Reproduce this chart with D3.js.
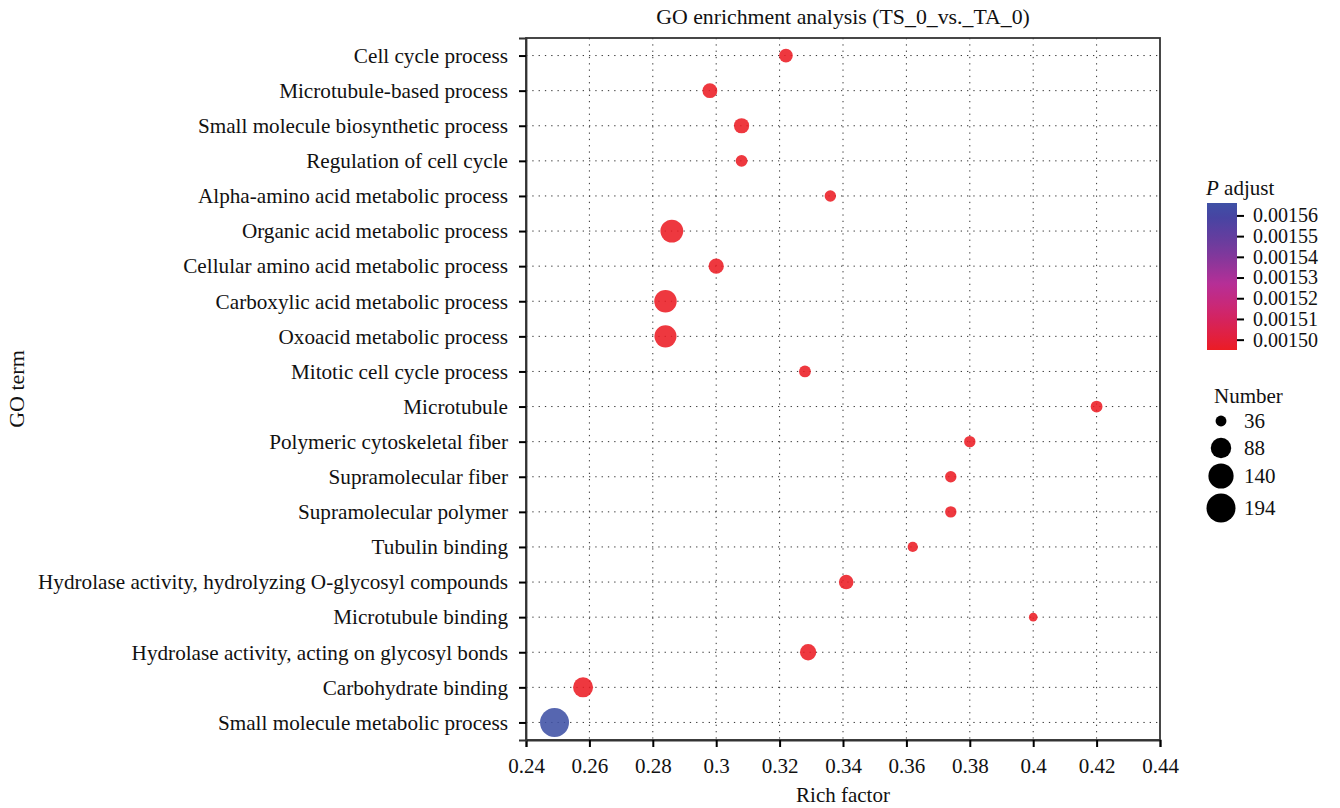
<!DOCTYPE html>
<html>
<head>
<meta charset="utf-8">
<script src="https://cdn.jsdelivr.net/npm/d3@7"></script>
<style>
  html, body { margin: 0; padding: 0; background: #fff; }
  svg { display: block; font-family: "Liberation Serif", "DejaVu Serif", serif; }
</style>
</head>
<body>
<svg id="chart" width="1340" height="808"></svg>
<script>
// GO terms, top to bottom
const terms = [
  "Cell cycle process",
  "Microtubule-based process",
  "Small molecule biosynthetic process",
  "Regulation of cell cycle",
  "Alpha-amino acid metabolic process",
  "Organic acid metabolic process",
  "Cellular amino acid metabolic process",
  "Carboxylic acid metabolic process",
  "Oxoacid metabolic process",
  "Mitotic cell cycle process",
  "Microtubule",
  "Polymeric cytoskeletal fiber",
  "Supramolecular fiber",
  "Supramolecular polymer",
  "Tubulin binding",
  "Hydrolase activity, hydrolyzing O-glycosyl compounds",
  "Microtubule binding",
  "Hydrolase activity, acting on glycosyl bonds",
  "Carbohydrate binding",
  "Small molecule metabolic process"
];
const richFactor = [0.322, 0.298, 0.308, 0.308, 0.336, 0.286, 0.300, 0.284, 0.284, 0.328,
                    0.420, 0.380, 0.374, 0.374, 0.362, 0.341, 0.400, 0.329, 0.258, 0.249];
const geneNumber = [44, 49, 51, 38, 37, 112, 51, 108, 104, 38,
                    38, 37, 37, 37, 35, 48, 34, 57, 84, 194];
const pAdjust = [0.001495, 0.001495, 0.001495, 0.001495, 0.001495, 0.001495, 0.001495, 0.001495, 0.001495, 0.001495,
                 0.001495, 0.001495, 0.001495, 0.001495, 0.001495, 0.001495, 0.001495, 0.001495, 0.001495, 0.001566];

const xTicks = [0.24, 0.26, 0.28, 0.30, 0.32, 0.34, 0.36, 0.38, 0.40, 0.42, 0.44];
const pTicks = [0.00150, 0.00151, 0.00152, 0.00153, 0.00154, 0.00155, 0.00156];
const sizeBreaks = [36, 88, 140, 194];

const svg = d3.select("#chart");
const plotL = 526, plotR = 1160, plotT = 38, plotB = 740;

const x = d3.scaleLinear().domain([0.24, 0.44]).range([plotL, plotR]);
const y = d3.scalePoint().domain(terms).range([plotT, plotB]).padding(0.5);

// red -> blue ramp, passing through a muted purple
const pExtent = [0.001495, 0.001566];
const mixInterp = (a, b) => {
  const h = d3.interpolateHsl(a, b), r = d3.interpolateRgb(a, b);
  return t => d3.interpolateRgb(h(t), r(t))(0.5);
};
const color = d3.scaleLinear().domain(pExtent).range(["#ec1c24", "#3f51a5"]).interpolate(mixInterp);

// area-proportional sizing between the smallest and largest counts
const nExtent = [34, 194];
const nUnit = d3.scaleLinear().domain(nExtent).range([0, 1]);
const rUnit = d3.scaleSqrt().domain([0, 1]).range([4.3, 14.5]);
const radius = v => rUnit(nUnit(v));

const g = svg.append("g");

// dotted grid
g.append("g").selectAll("line").data(xTicks.slice(1, -1)).join("line")
  .attr("x1", d => x(d)).attr("x2", d => x(d)).attr("y1", plotT).attr("y2", plotB)
  .attr("stroke", "#333").attr("stroke-width", 1).attr("stroke-dasharray", "1.3,5");
g.append("g").selectAll("line").data(terms).join("line")
  .attr("x1", plotL).attr("x2", plotR).attr("y1", d => y(d)).attr("y2", d => y(d))
  .attr("stroke", "#333").attr("stroke-width", 1).attr("stroke-dasharray", "1.3,5");

// panel border
g.append("rect").attr("x", plotL).attr("y", plotT).attr("width", plotR - plotL).attr("height", plotB - plotT)
  .attr("fill", "none").attr("stroke", "#333").attr("stroke-width", 1.8);

// points
const rows = terms.map((t, i) => ({ term: t, rf: richFactor[i], n: geneNumber[i], p: pAdjust[i] }));
g.append("g").selectAll("circle").data(rows).join("circle")
  .attr("cx", d => x(d.rf)).attr("cy", d => y(d.term)).attr("r", d => radius(d.n))
  .attr("fill", d => color(d.p)).attr("fill-opacity", 0.88);

// axes
const xAxis = d3.axisBottom(x).tickValues(xTicks).tickFormat(d => String(+d.toFixed(2))).tickSize(7).tickPadding(11);
const gx = svg.append("g").attr("transform", `translate(0,${plotB})`).call(xAxis);
gx.select(".domain").attr("stroke", "#333").attr("stroke-width", 1.8);
gx.selectAll(".tick line").attr("stroke", "#000").attr("stroke-width", 2);
gx.selectAll(".tick text").attr("fill", "#111").style("font-size", "21px").style("font-family", "Liberation Serif");

const yAxis = d3.axisLeft(y).tickSize(7).tickPadding(11);
const gy = svg.append("g").attr("transform", `translate(${plotL},0)`).call(yAxis);
gy.select(".domain").attr("stroke", "#333").attr("stroke-width", 1.8);
gy.selectAll(".tick line").attr("stroke", "#000").attr("stroke-width", 2);
gy.selectAll(".tick text").attr("fill", "#111").style("font-size", "21.2px").style("font-family", "Liberation Serif");

// titles
svg.append("text").attr("x", (plotL + plotR) / 2).attr("y", 24).attr("text-anchor", "middle")
  .attr("fill", "#111").style("font-size", "21.8px").text("GO enrichment analysis (TS_0_vs._TA_0)");
svg.append("text").attr("x", (plotL + plotR) / 2).attr("y", 802).attr("text-anchor", "middle")
  .attr("fill", "#111").style("font-size", "21px").text("Rich factor");
svg.append("text").attr("transform", `translate(24,${(plotT + plotB) / 2}) rotate(-90)`).attr("text-anchor", "middle")
  .attr("fill", "#111").style("font-size", "22px").text("GO term");

// colour legend
const cb = { x: 1207, y: 203, w: 30, h: 147 };
const grad = svg.append("defs").append("linearGradient").attr("id", "pgrad")
  .attr("x1", 0).attr("y1", 1).attr("x2", 0).attr("y2", 0);
d3.range(0, 1.0001, 0.05).forEach(t => {
  grad.append("stop").attr("offset", t).attr("stop-color", color(pExtent[0] + t * (pExtent[1] - pExtent[0])));
});
const pTitle = svg.append("text").attr("x", 1206).attr("y", 195).attr("fill", "#111").style("font-size", "21px");
pTitle.append("tspan").style("font-style", "italic").text("P");
pTitle.append("tspan").text(" adjust");
svg.append("rect").attr("x", cb.x).attr("y", cb.y).attr("width", cb.w).attr("height", cb.h).attr("fill", "url(#pgrad)");
const py = d3.scaleLinear().domain(pExtent).range([cb.y + cb.h, cb.y]);
const pAxis = d3.axisRight(py).tickValues(pTicks).tickFormat(d3.format(".5f")).tickSize(7).tickPadding(9);
const gp = svg.append("g").attr("transform", `translate(${cb.x + cb.w},0)`).call(pAxis);
gp.select(".domain").remove();
gp.selectAll(".tick line").attr("stroke", "#000").attr("stroke-width", 2);
gp.selectAll(".tick text").attr("fill", "#111").style("font-size", "20px").style("font-family", "Liberation Serif");

// size legend
svg.append("text").attr("x", 1214).attr("y", 403).attr("fill", "#111").style("font-size", "21px").text("Number");
const sizeY = [421, 448, 476, 508];
const sl = svg.append("g").selectAll("g").data(sizeBreaks).join("g")
  .attr("transform", (d, i) => `translate(1221,${sizeY[i]})`);
sl.append("circle").attr("r", d => radius(d)).attr("fill", "#000");
sl.append("text").attr("x", 23).attr("dy", "0.35em").attr("fill", "#111").style("font-size", "21px").text(d => d);
</script>
</body>
</html>
